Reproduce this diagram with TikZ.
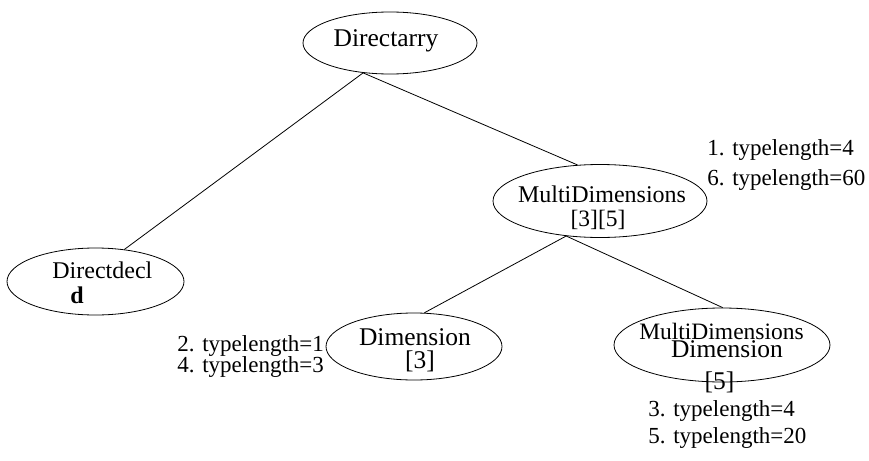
\documentclass[tikz,border=0pt]{standalone}
\usepackage{fontspec}
\setmainfont{Liberation Serif}
\usetikzlibrary{shapes.geometric}

\begin{document}
\begin{tikzpicture}[x=1pt,y=-1pt,line width=0.8pt,
treenode/.style={draw,ellipse,inner sep=0pt},
nodetext/.style={inner sep=0pt,anchor=base},
lengthnote/.style={inner sep=0pt,anchor=base west,font=\fontsize{23}{23}\selectfont}]
\useasboundingbox (0,0) rectangle (869,460);
% tree nodes
\node[treenode,minimum width=174pt,minimum height=62pt] (directarry) at (390,43) {};
\node[treenode,minimum width=177pt,minimum height=67pt] (directdecl) at (95.5,281.5) {};
\node[treenode,minimum width=214pt,minimum height=73pt] (multidim) at (600,201) {};
\node[treenode,minimum width=176pt,minimum height=67pt] (dim3) at (414,346.5) {};
\node[treenode,minimum width=216pt,minimum height=74pt] (dim5) at (722,345) {};
% node texts
\node[nodetext,font=\fontsize{25.5}{26}\selectfont] (directarrytxt) at (386,47) {Directarry};
\node[nodetext,anchor=base west,font=\fontsize{24}{24}\selectfont] (directdecltxt) at (52,278) {Directdecl};
\node[nodetext,anchor=base west,font=\fontsize{24}{24}\selectfont\bfseries] (decltxt) at (70,303) {d};
\node[nodetext,font=\fontsize{24}{24}\selectfont] (multidimtxt) at (602,202) {MultiDimensions};
\node[nodetext,font=\fontsize{23.5}{24}\selectfont] (multiidxtxt) at (598,226) {[3][5]};
\node[nodetext,font=\fontsize{25.5}{26}\selectfont] (dim3txt) at (415,345) {Dimension};
\node[nodetext,font=\fontsize{25.5}{26}\selectfont] (dim3idx) at (420,368) {[3]};
\node[nodetext,font=\fontsize{23.5}{24}\selectfont] (dim5multi) at (721.5,339) {MultiDimensions};
\node[nodetext,font=\fontsize{25.5}{26}\selectfont] (dim5txt) at (727,357) {Dimension};
\node[nodetext,font=\fontsize{25.5}{26}\selectfont] (dim5idx) at (719.5,389) {[5]};
% typelength notes
\node[lengthnote] (note1) at (707,155) {1. typelength=4};
\node[lengthnote] (note6) at (707,185) {6. typelength=60};
\node[lengthnote] (note2) at (177,351) {2. typelength=1};
\node[lengthnote] (note4) at (177,372) {4. typelength=3};
\node[lengthnote] (note3) at (648,416) {3. typelength=4};
\node[lengthnote] (note5) at (648,443) {5. typelength=20};
% edges
\draw (directarry.-132) -- (directdecl.48);
\draw (directarry.-132) -- (multidim.122);
\draw (multidim.-134) -- (dim3.73);
\draw (multidim.-134) -- (dim5.89);
\end{tikzpicture}
\end{document}
